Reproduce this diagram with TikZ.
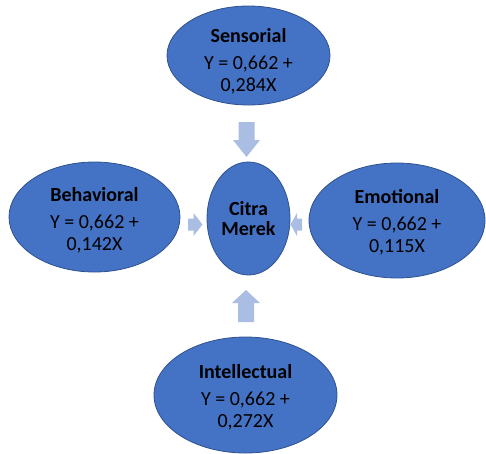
\documentclass[tikz,border=0pt]{standalone}
\usepackage{fontspec}
\setmainfont{Carlito}
\usetikzlibrary{shapes.geometric}
\definecolor{ellfill}{HTML}{4472C4}
\definecolor{elldraw}{HTML}{2F528F}
\definecolor{arrfill}{HTML}{AABEE4}
\begin{document}
\begin{tikzpicture}[x=1pt,y=-1pt,
  oval/.style={ellipse, fill=ellfill, draw=elldraw, line width=0.8pt, inner sep=0pt},
  lbl/.style={align=center, text=black, font=\fontsize{20}{22}\selectfont, inner sep=0pt},
  blockarrow/.style={fill=arrfill, draw=none}]
\useasboundingbox (0,0) rectangle (486,453);
% ellipses
\node[oval, minimum width=163pt, minimum height=99pt] (sens) at (248.5,55.5) {};
\node[oval, minimum width=83pt, minimum height=113pt] (citra) at (248.5,218.5) {};
\node[oval, minimum width=171pt, minimum height=110pt] (behav) at (94.5,217) {};
\node[oval, minimum width=176pt, minimum height=115pt] (emot) at (397,220.5) {};
\node[oval, minimum width=183pt, minimum height=116pt] (intel) at (245.5,395) {};
% texts
\node[lbl] (senst) at ([yshift=-6pt]sens.center) {\textbf{Sensorial}\\[5pt]Y = 0,662 +\\0,284X};
\node[lbl, font=\fontsize{20}{20.5}\selectfont] (citrat) at (citra.center) {\textbf{Citra}\\\textbf{Merek}};
\node[lbl] (behavt) at ([yshift=-3pt]behav.center) {\textbf{Behavioral}\\[5pt]Y = 0,662 +\\0,142X};
\node[lbl] (emott) at ([yshift=-2pt]emot.center) {\textbf{Emotional}\\[5pt]Y = 0,662 +\\0,115X};
\node[lbl] (intelt) at ([yshift=-2pt]intel.center) {\textbf{Intellectual}\\[5pt]Y = 0,662 +\\0,272X};
% block arrows
\coordinate (dA) at (246.5,122);
\fill[blockarrow] (dA) ++(-8,0) -- ++(16,0) -- ++(0,18) -- ++(5.5,0) -- (246.5,157) -- (233,140) -- (238.5,140) -- cycle;
\coordinate (uA) at (246,322);
\fill[blockarrow] (uA) ++(-8,0) -- ++(16,0) -- ++(0,-19) -- ++(6,0) -- (246,290) -- (232,303) -- (238,303) -- cycle;
\coordinate (rA) at (188,224.5);
\fill[blockarrow] (rA) ++(0,-6) -- (193.5,218.5) -- (193.5,213) -- (202.5,224.5) -- (193.5,236) -- (193.5,230.5) -- (188,230.5) -- cycle;
\coordinate (lA) at (302,224.5);
\fill[blockarrow] (lA) ++(0,-6) -- (297,218.5) -- (297,213) -- (290.5,224.5) -- (297,236) -- (297,230.5) -- (302,230.5) -- cycle;
\end{tikzpicture}
\end{document}
